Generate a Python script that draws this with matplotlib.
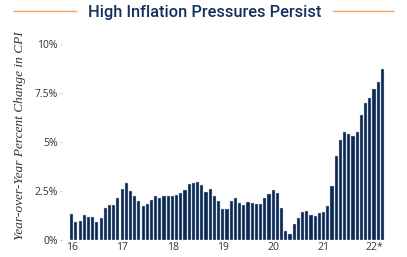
import matplotlib
matplotlib.use("Agg")
from matplotlib import pyplot as plt
from matplotlib.lines import Line2D

# monthly year-over-year CPI change, Jan 2016 - Mar 2022
cpi = [
    1.30, 0.90, 0.95, 1.25, 1.15, 1.15, 0.90, 1.10, 1.60, 1.75, 1.75, 2.10,  # 2016
    2.60, 2.90, 2.50, 2.25, 1.95, 1.70, 1.80, 2.00, 2.25, 2.10, 2.25, 2.20,  # 2017
    2.20, 2.30, 2.40, 2.55, 2.85, 2.90, 2.95, 2.80, 2.45, 2.60, 2.25, 1.98,  # 2018
    1.56, 1.56, 1.95, 2.10, 1.88, 1.76, 1.90, 1.85, 1.82, 1.83, 2.10, 2.35,  # 2019
    2.55, 2.40, 1.60, 0.42, 0.30, 0.80, 1.08, 1.40, 1.46, 1.24, 1.20, 1.34,  # 2020
    1.42, 1.73, 2.75, 4.25, 5.07, 5.48, 5.40, 5.31, 5.50, 6.38, 6.98, 7.25,  # 2021
    7.68, 8.07, 8.72,  # 2022
]
yearLabels = ["16", "17", "18", "19", "20", "21", "22*"]
yTicks = [0, 2.5, 5, 7.5, 10]
yTickLabels = ["0%", "2.5%", "5%", "7.5%", "10%"]

navy = "#0a2854"
grey = "#333333"

fig = plt.figure(figsize=(4.07, 2.57), dpi=100)
ax = fig.add_axes([62 / 407, 17.5 / 257, 328 / 407, 195.5 / 257])

ax.bar(range(len(cpi)), cpi, width=0.74, color=navy, edgecolor="#c3cddb", linewidth=0.3)
ax.set_xlim(-2.3, 75.8)
ax.set_ylim(0, 10)

ax.set_xticks([12 * i for i in range(len(yearLabels))])
ax.set_xticklabels(yearLabels, fontsize=7.5, color=grey, family="Open Sans")
ax.set_yticks(yTicks)
ax.set_yticklabels(yTickLabels, fontsize=7.5, color=grey, family="Open Sans")
ax.tick_params(axis="x", length=0, pad=2)
ax.tick_params(axis="y", length=1.5, color="#cccccc", pad=1.5)
for side in ["top", "right", "left", "bottom"]:
    ax.spines[side].set_visible(False)

fig.text(0.05, 0.472, "Year-over-Year Percent Change in CPI", rotation=90, ha="center",
         va="center", fontsize=9.6, style="italic", family="Liberation Serif", color=grey)

# title with orange rules on either side
fig.text(0.502, 0.953, "High Inflation Pressures Persist", ha="center", va="center",
         fontsize=11.8, fontweight="medium", family="Roboto", color="#13305c")
fig.add_artist(Line2D([14 / 407, 76 / 407], [0.958, 0.958], color="#f7a35c", lw=1))
fig.add_artist(Line2D([333 / 407, 393 / 407], [0.958, 0.958], color="#f7a35c", lw=1))

fig.savefig("out.png", dpi=100)
